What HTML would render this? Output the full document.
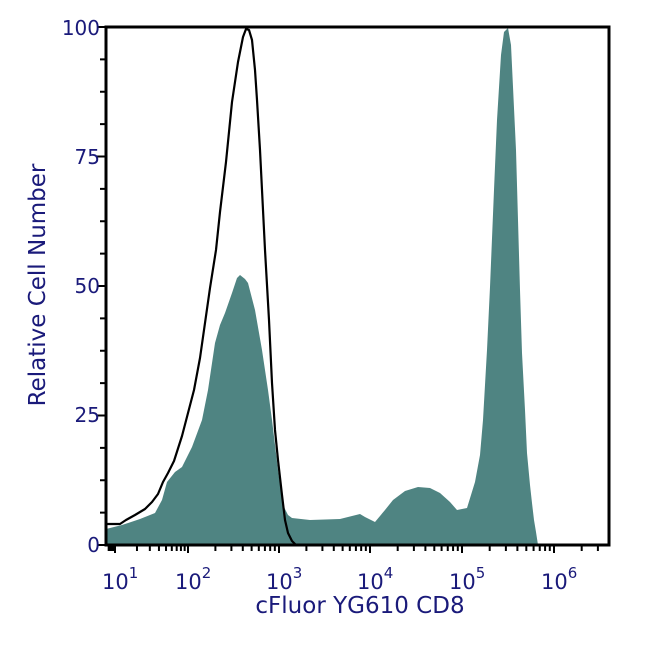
<!DOCTYPE html>
<html><head><meta charset="utf-8"><style>
html,body{margin:0;padding:0;background:#fff;}
svg{display:block;font-family:"DejaVu Sans","Liberation Sans",sans-serif;}
</style></head><body>
<svg id="s" width="650" height="650" viewBox="0 0 650 650" xmlns="http://www.w3.org/2000/svg">
<rect width="650" height="650" fill="#fff"/>
<path fill="#4f8482" d="M106,529 L122,525 L140,519 L155,513 L162,500 L167,482 L175,472 L182,467 L192,447 L202,420 L208,390 L215,343 L220,325 L225,313 L232,293 L237,278 L240,275 L245,279 L248,283 L255,310 L262,350 L268,390 L272,420 L278,470 L283,505 L288,515 L292,518 L310,520 L340,519 L352,516 L360,514 L365,517 L375,522 L385,510 L393,500 L405,491 L418,487 L430,488 L440,493 L450,502 L457,510 L467,508 L475,482 L480,455 L483,420 L487,350 L490,287 L494,190 L497,120 L501,55 L504,32 L508,28 L511,45 L513,87 L516,150 L518,220 L520,290 L522,353 L525,410 L527,453 L530,485 L532,503 L534,520 L536,532 L538,545 L106,545 Z"/>
<path fill="none" stroke="#000" stroke-width="2.2" stroke-linejoin="round" d="M106,524 L120,524 L126,520 L135,515 L145,509 L152,502 L158,494 L163,482 L168,473 L174,461 L182,436 L188,413 L194,390 L200,358 L205,323 L210,288 L216,250 L220,212 L226,162 L232,102 L238,62 L243,37 L246,29 L249,30 L252,40 L255,70 L257,100 L260,150 L263,210 L265,250 L269,320 L272,383 L275,430 L278,460 L282,495 L285,520 L288,533 L292,541 L296,545"/>
<g id="ax" stroke="#000" fill="none"></g>
<rect x="106" y="27" width="503" height="518" fill="none" stroke="#000" stroke-width="3"/>
<g fill="#1a1a7a" font-size="20">
<text x="100" y="552" text-anchor="end">0</text>
<text x="100" y="422" text-anchor="end">25</text>
<text x="100" y="293" text-anchor="end">50</text>
<text x="100" y="164" text-anchor="end">75</text>
<text x="100" y="35" text-anchor="end">100</text>
</g>
<g id="xl" fill="#1a1a7a" font-size="21"></g>
<text x="360" y="613" fill="#1a1a7a" font-size="23" text-anchor="middle">cFluor YG610 CD8</text>
<text transform="translate(45,285) rotate(-90)" fill="#1a1a7a" font-size="23" text-anchor="middle">Relative Cell Number</text>
</svg>
<script>
var ax=document.getElementById('ax'),xl=document.getElementById('xl'),ns='http://www.w3.org/2000/svg';
function ln(x1,y1,x2,y2,w){var l=document.createElementNS(ns,'line');l.setAttribute('x1',x1);l.setAttribute('y1',y1);l.setAttribute('x2',x2);l.setAttribute('y2',y2);l.setAttribute('stroke-width',w);ax.appendChild(l);}
for(var i=0;i<=16;i++){var y=545-i*518/16;ln(i%4==0?97:100,y,106,y,2);}
var P=[94,115,188,279,370,462,554,646];
for(var d=0;d<7;d++){for(var k=1;k<10;k++){var x=P[d]+(P[d+1]-P[d])*Math.log10(k);if(x<107||x>607)continue;ln(x,545,x,k==1?553:551,2);}}
for(var d=1;d<=6;d++){var t=document.createElementNS(ns,'text');t.setAttribute('x',P[d]-13);t.setAttribute('y',589);t.innerHTML='10<tspan dy="-11" font-size="15">'+d+'</tspan>';xl.appendChild(t);}
</script>
</body></html>
